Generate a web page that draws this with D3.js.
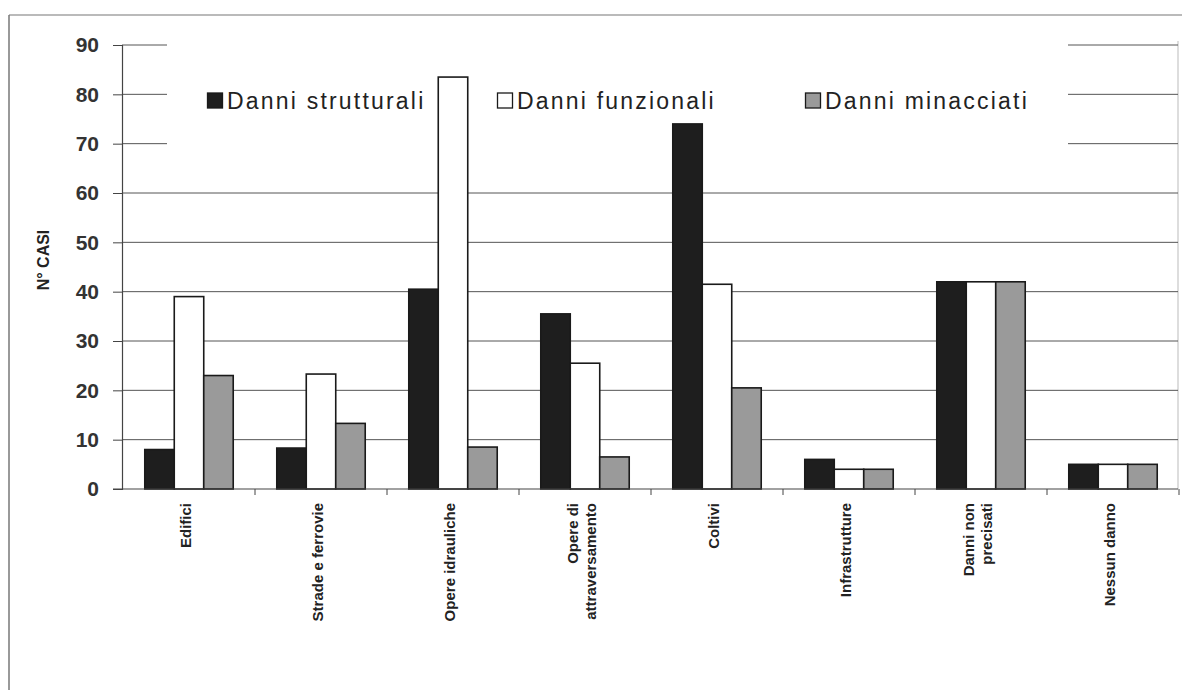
<!DOCTYPE html>
<html>
<head>
<meta charset="utf-8">
<script src="https://cdn.jsdelivr.net/npm/d3@7"></script>
<style>
  html, body { margin: 0; padding: 0; background: #fff; }
  svg { display: block; }
  text { font-family: Arial, "Liberation Sans", sans-serif; }
</style>
</head>
<body>
<svg id="chart" width="1182" height="690"></svg>
<script>
const categories = ["Edifici", "Strade e ferrovie", "Opere idrauliche", "Opere di attraversamento", "Coltivi", "Infrastrutture", "Danni non precisati", "Nessun danno"];
const categoryLines = [["Edifici"], ["Strade e ferrovie"], ["Opere idrauliche"], ["Opere di", "attraversamento"], ["Coltivi"], ["Infrastrutture"], ["Danni non", "precisati"], ["Nessun danno"]];
const seriesNames = ["Danni strutturali", "Danni funzionali", "Danni minacciati"];
const strutturali = [8, 8.3, 40.5, 35.5, 74, 6, 42, 5];
const funzionali = [39, 23.3, 83.5, 25.5, 41.5, 4, 42, 5];
const minacciati = [23, 13.3, 8.5, 6.5, 20.5, 4, 42, 5];
const yTicks = [0, 10, 20, 30, 40, 50, 60, 70, 80, 90];
const seriesColors = ["#1e1e1e", "#ffffff", "#9a9a9a"];

const seriesValues = [strutturali, funzionali, minacciati];
const svg = d3.select("#chart");

// page frame
svg.append("line").attr("x1", 9).attr("x2", 1182).attr("y1", 15).attr("y2", 15).attr("stroke", "#777").attr("stroke-width", 1.2);
svg.append("line").attr("x1", 9).attr("x2", 9).attr("y1", 15).attr("y2", 690).attr("stroke", "#777").attr("stroke-width", 1.5);

const x = d3.scaleBand().domain(categories).range([123, 1179]).paddingInner(0.33).paddingOuter(0.165);
const x1 = d3.scaleBand().domain(seriesNames).range([0, x.bandwidth()]);
const y = d3.scaleLinear().domain([0, 90]).range([489, 45]);

// plot area right border (faint)
svg.append("line").attr("x1", 1178).attr("x2", 1178).attr("y1", y(90) - 4).attr("y2", y(0)).attr("stroke", "#bbb").attr("stroke-width", 1);

// gridlines
svg.append("g").selectAll("line").data(yTicks.filter(d => d > 0)).join("line")
  .attr("x1", 122).attr("x2", 1178)
  .attr("y1", d => y(d)).attr("y2", d => y(d))
  .attr("stroke", "#555").attr("stroke-width", 1);

// legend background (hides gridlines behind it)
svg.append("rect").attr("x", 167).attr("y", 30).attr("width", 901).attr("height", 128).attr("fill", "#fff");

// y axis
const yAxis = d3.axisLeft(y).tickValues(yTicks).tickSize(9).tickPadding(14);
const gy = svg.append("g").attr("transform", "translate(122,0)").call(yAxis);
gy.select(".domain").attr("stroke", "#444").attr("stroke-width", 1.2);
gy.selectAll(".tick line").attr("stroke", "#444").attr("stroke-width", 1);
gy.selectAll(".tick text").attr("font-size", 21).attr("font-weight", "bold").attr("fill", "#333").attr("font-family", "Arial, 'Liberation Sans', sans-serif");

// y title
svg.append("text").attr("transform", "translate(49,260) rotate(-90)")
  .attr("text-anchor", "middle").attr("font-size", 16).attr("font-weight", "bold").attr("fill", "#222")
  .text("N° CASI");

// bars
const groups = svg.append("g").selectAll("g").data(categories).join("g")
  .attr("transform", d => `translate(${x(d)},0)`);
groups.selectAll("rect").data((c, i) => seriesNames.map((s, j) => ({ s, j, v: seriesValues[j][i] }))).join("rect")
  .attr("x", d => x1(d.s))
  .attr("y", d => y(d.v))
  .attr("width", x1.bandwidth())
  .attr("height", d => y(0) - y(d.v))
  .attr("fill", d => seriesColors[d.j])
  .attr("stroke", "#1a1a1a").attr("stroke-width", 1.6);

// x axis
svg.append("line").attr("x1", 113).attr("x2", 1178).attr("y1", y(0)).attr("y2", y(0)).attr("stroke", "#444").attr("stroke-width", 1.2);
const boundaries = categories.map(c => x(c) - x.step() * x.paddingInner() / 2).concat([1179]);
svg.append("g").selectAll("line").data(boundaries.slice(1)).join("line")
  .attr("x1", d => d).attr("x2", d => d).attr("y1", y(0)).attr("y2", y(0) + 6)
  .attr("stroke", "#444").attr("stroke-width", 1);

// x labels
const labelG = svg.append("g").selectAll("g").data(categories).join("g")
  .attr("transform", d => `translate(${x(d) + x.bandwidth() / 2 - 3},503) rotate(-90)`);
labelG.each(function (c, i) {
  const lines = categoryLines[i];
  const n = lines.length;
  d3.select(this).selectAll("text").data(lines).join("text")
    .attr("x", 0)
    .attr("y", (d, k) => (k - (n - 1) / 2) * 18 + 5)
    .attr("text-anchor", "end")
    .attr("font-size", 15).attr("font-weight", "bold").attr("fill", "#222")
    .text(d => d);
});

// legend
const legendX = [207, 497, 805];
const lg = svg.append("g").selectAll("g").data(seriesNames).join("g")
  .attr("transform", (d, i) => `translate(${legendX[i]},92)`);
lg.append("rect").attr("x", 0.5).attr("y", 1).attr("width", 15).attr("height", 15)
  .attr("fill", (d, i) => seriesColors[i]).attr("stroke", "#1a1a1a").attr("stroke-width", 1.3);
lg.append("text").attr("x", 20).attr("y", 17)
  .attr("font-size", 23).attr("letter-spacing", 2.2).attr("fill", "#222")
  .text(d => d);
</script>
</body>
</html>
